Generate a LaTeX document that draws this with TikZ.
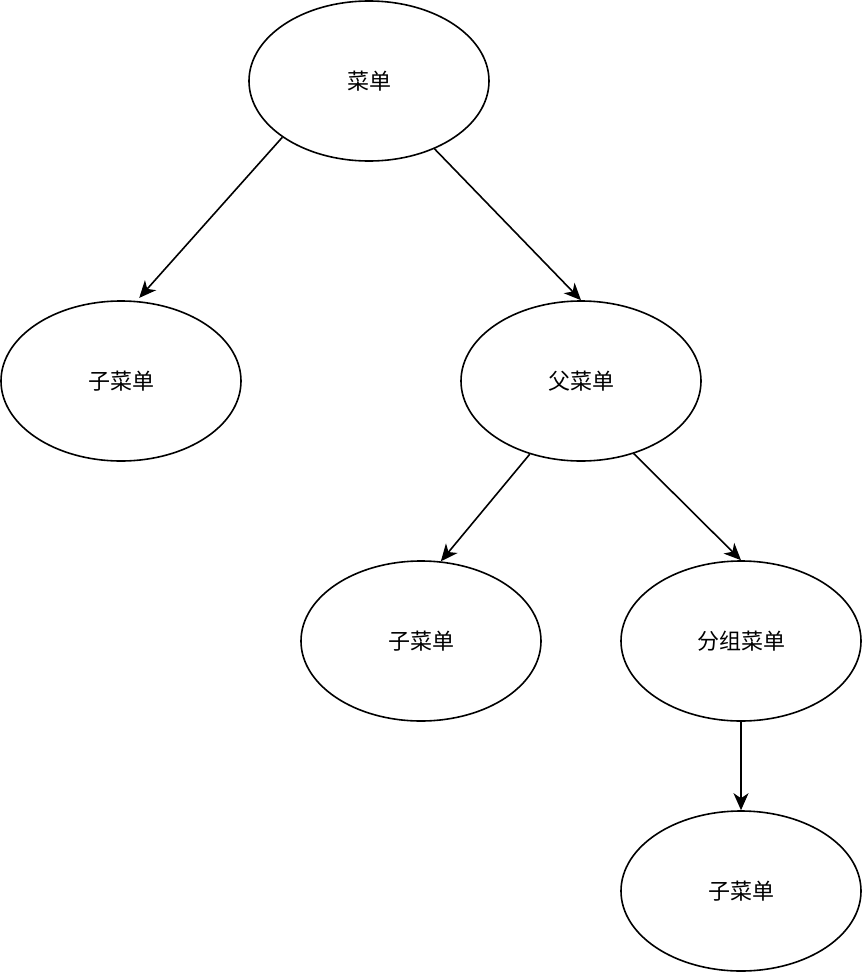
\documentclass[tikz,border=0pt]{standalone}
\usepackage{fontspec}
\newfontfamily\cjk{Noto Sans CJK SC}
\usetikzlibrary{shapes.geometric,arrows.meta}
\tikzset{
  menu/.style={ellipse, draw, line width=1.6pt, minimum width=240pt, minimum height=160pt, inner sep=0pt, font=\cjk\fontsize{22}{25}\selectfont},
  link/.style={line width=1.6pt, -{Stealth[length=17pt,width=15pt,inset=5pt]}}
}
\begin{document}
\begin{tikzpicture}[x=1pt,y=-1pt]
\useasboundingbox[fill=white] (0,0) rectangle (862,972);
\node[menu] (root) at (369,81) {菜单};
\node[menu] (sub1) at (121,381) {子菜单};
\node[menu] (parent) at (581,381) {父菜单};
\node[menu] (sub2) at (421,641) {子菜单};
\node[menu] (group) at (741,641) {分组菜单};
\node[menu] (sub3) at (741,891) {子菜单};
\draw[link, shorten >=4pt] (root.213.8) -- (sub1.79);
\draw[link] (root.314.1) -- (parent.north);
\draw[link] (parent.235.1) -- (sub2.76);
\draw[link] (parent.306.4) -- (group.north);
\draw[link] (group.south) -- (sub3.north);
\end{tikzpicture}
\end{document}
